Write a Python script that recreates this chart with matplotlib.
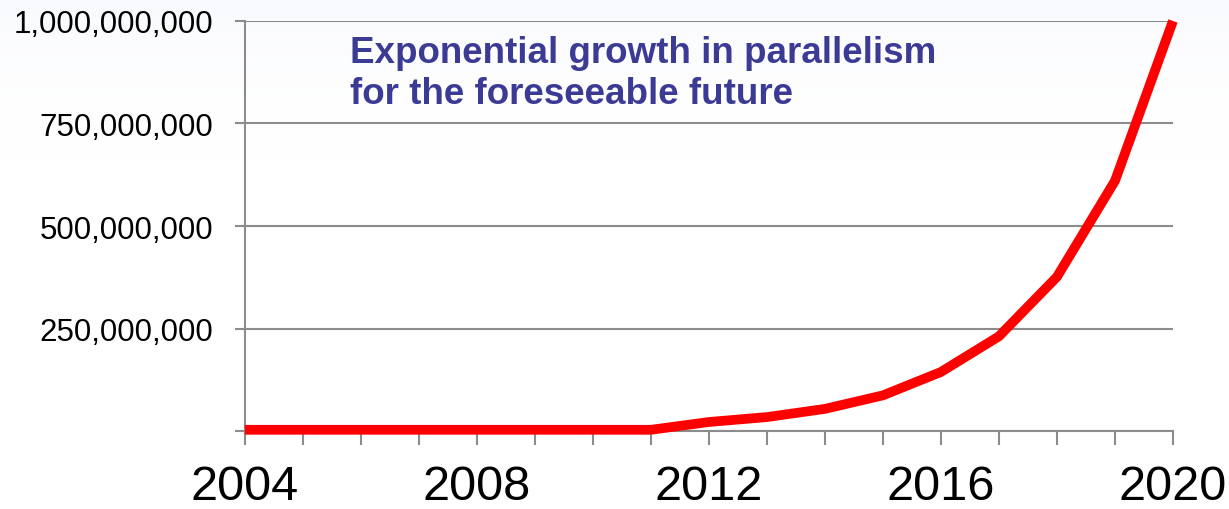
import matplotlib.pyplot as plt
import numpy as np
from matplotlib.ticker import FuncFormatter, MultipleLocator

years = [2004, 2005, 2006, 2007, 2008, 2009, 2010, 2011,
         2012, 2013, 2014, 2015, 2016, 2017, 2018, 2019, 2020]
concurrency = [3e6, 3e6, 3e6, 3e6, 3e6, 3e6, 3e6, 3e6,
               22e6, 34e6, 54e6, 87e6, 144e6, 231e6, 376e6, 610e6, 1000e6]
labelled_years = [2004, 2008, 2012, 2016, 2020]
note = "Exponential growth in parallelism\nfor the foreseeable future"

plt.rcParams['font.family'] = ['Liberation Sans', 'DejaVu Sans']
grey = '#8c8c8c'

fig = plt.figure(figsize=(12.29, 5.10), dpi=100)

# faint tint along the top edge
bg = fig.add_axes([0, 0, 1, 1], zorder=-10)
grad = np.ones((510, 2, 3))
fade = (np.clip(1 - np.arange(510) / 160.0, 0, 1) ** 2)[:, None]
grad[:, :, 0] -= 0.025 * fade
grad[:, :, 1] -= 0.02 * fade
grad[:, :, 2] -= 0.008 * fade
bg.imshow(grad, aspect='auto', extent=[0, 1, 0, 1])
bg.axis('off')

ax = fig.add_axes([0.1993, 0.1529, 0.7551, 0.804])
ax.patch.set_alpha(0)
ax.plot(years, concurrency, color='#ff0000', lw=7, clip_on=False,
        solid_capstyle='butt', solid_joinstyle='miter', zorder=5)

ax.set_xlim(2004, 2020)
ax.set_ylim(0, 1e9)
ax.yaxis.set_major_locator(MultipleLocator(250e6))
ax.yaxis.set_major_formatter(FuncFormatter(
    lambda v, p: '' if v == 0 else f'{int(v):,}'))
ax.xaxis.set_major_locator(MultipleLocator(1))
ax.xaxis.set_major_formatter(FuncFormatter(
    lambda v, p: str(int(round(v))) if int(round(v)) in labelled_years else ''))

ax.grid(axis='y', color=grey, lw=1.5)
ax.set_axisbelow(True)
for side in ['top', 'right']:
    ax.spines[side].set_visible(False)
for side in ['left', 'bottom']:
    ax.spines[side].set_color(grey)
    ax.spines[side].set_linewidth(1.5)

ax.tick_params(axis='x', direction='out', length=10, width=1.5, color=grey,
               labelsize=35, pad=14)
ax.tick_params(axis='y', direction='out', length=7, width=1.5, color=grey,
               labelsize=22.5, pad=16)

fig.text(350 / 1229, 1 - 36 / 510, note, ha='left', va='top',
         fontsize=26.5, fontweight='bold', color='#3b3b96',
         linespacing=1.22)

fig.savefig('out.png', dpi=100)
